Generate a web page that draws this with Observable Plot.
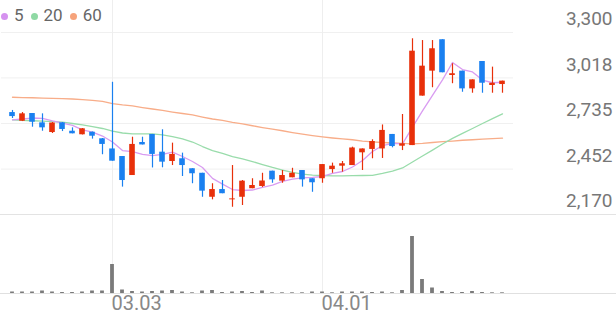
<!DOCTYPE html>
<html><head><meta charset="utf-8">
<script src="https://cdn.jsdelivr.net/npm/d3@7"></script>
<script src="https://cdn.jsdelivr.net/npm/@observablehq/plot@0.6"></script>
<style>
html,body{margin:0;padding:0;background:#fff;}
#chart{position:relative;width:616px;height:321px;overflow:hidden;font-family:Roboto,sans-serif;}
#chart svg{position:absolute;left:0;}
#legend{position:absolute;left:1px;top:0;height:30px;line-height:30px;font-size:17px;color:#666;white-space:nowrap;z-index:2;}
#legend .dot{display:inline-block;width:7px;height:7px;border-radius:50%;margin-right:6px;vertical-align:1px;}
#legend .lab{margin-right:7px;}
</style></head><body><div id="chart"><div id="legend"></div></div>
<script>
const dates = ["02.11","02.12","02.13","02.19","02.20","02.23","02.24","02.25","02.26","02.27","03.03","03.04","03.05","03.06","03.09","03.10","03.11","03.12","03.13","03.16","03.17","03.18","03.19","03.20","03.23","03.24","03.25","03.26","03.27","03.30","03.31","04.01","04.02","04.03","04.06","04.07","04.08","04.09","04.10","04.13","04.14","04.15","04.16","04.17","04.20","04.21","04.22","04.23","04.24","04.27"];
const open  = [2803,2749,2797,2739,2679,2739,2687,2665,2681,2640,2577,2530,2412,2617,2667,2557,2499,2516,2454,2426,2277,2325,2261,2277,2330,2344,2439,2377,2398,2443,2392,2392,2449,2470,2474,2553,2574,2577,2667,2594,2598,2905,3060,3255,3033,3060,2950,3120,2971,2977];
const high  = [2816,2803,2797,2795,2741,2741,2708,2704,2682,2642,2991,2530,2650,2650,2667,2696,2613,2551,2454,2426,2361,2381,2474,2381,2392,2426,2439,2443,2457,2443,2392,2480,2489,2499,2588,2577,2634,2726,2667,2791,3261,3250,3250,3255,3106,3060,3006,3120,3085,2998];
const low   = [2766,2747,2712,2687,2673,2685,2671,2664,2638,2541,2501,2340,2412,2602,2459,2460,2474,2406,2361,2277,2261,2299,2215,2226,2330,2338,2364,2364,2398,2340,2308,2364,2426,2433,2474,2443,2516,2518,2584,2567,2598,2905,2957,3050,2982,2929,2923,2923,2923,2923];
const close = [2778,2795,2743,2708,2738,2698,2671,2702,2656,2605,2501,2381,2605,2602,2543,2495,2543,2474,2423,2315,2325,2299,2267,2377,2350,2378,2385,2412,2426,2385,2367,2480,2470,2485,2583,2577,2623,2692,2592,2609,3184,3091,3199,3050,3044,2950,3006,2985,2985,2998];
const volume = [15000,15000,15000,25000,15000,10000,10000,15000,25000,25000,290000,35000,20000,15000,20000,25000,30000,15000,7000,25000,30000,10000,15000,20000,10000,25000,7000,7000,7000,7000,15000,15000,7000,15000,15000,15000,10000,15000,7000,30000,570000,140000,55000,20000,10000,10000,20000,10000,7000,7000];
const ma5  = [2757,2763,2769,2767,2751,2738,2723,2695,2682,2657,2620,2567,2561,2543,2536,2543,2557,2530,2499,2462,2394,2359,2325,2319,2322,2338,2353,2375,2390,2397,2400,2406,2425,2437,2465,2505,2561,2598,2611,2609,2713,2813,2910,3006,3114,3070,3055,3005,2988,2991];
const ma20 = [2758,2755,2752,2750,2747,2743,2735,2726,2716,2704,2688,2676,2671,2671,2670,2664,2654,2639,2620,2592,2567,2549,2530,2515,2499,2480,2462,2446,2431,2421,2415,2412,2410,2410,2411,2412,2413,2425,2440,2459,2496,2533,2570,2608,2643,2674,2704,2735,2765,2795];
const ma60 = [2898,2896,2895,2893,2891,2889,2887,2883,2878,2872,2859,2850,2844,2834,2825,2816,2806,2797,2788,2775,2763,2754,2742,2732,2721,2710,2700,2690,2679,2669,2660,2652,2645,2639,2634,2626,2621,2617,2614,2611,2609,2612,2617,2622,2626,2631,2634,2638,2641,2644];
const yTicks = [2170, 2452, 2735, 3018, 3300];
const xTicks = ["03.03", "04.01"];
const maNames = ["5", "20", "60"];
const maColors = ["#d592ef", "#8fd9a4", "#f6a37b"];
const lineColors = ["#d99cf1", "#99dcab", "#f8ad89"];
const upColor = "#e8300a", downColor = "#1a80f0";

const rows = dates.map((d, i) => ({date: d, open: open[i], high: high[i], low: low[i], close: close[i], volume: volume[i], ma5: ma5[i], ma20: ma20[i], ma60: ma60[i]}));
const candleColor = d => d.close >= d.open ? upColor : downColor;
const fmt = d3.format(",");
const chart = document.getElementById("chart");

const xOpt = {type: "band", domain: dates, padding: 0};

const price = Plot.plot({
  width: 616, height: 215,
  marginTop: 32, marginBottom: 1, marginLeft: 1, marginRight: 103,
  x: {...xOpt, axis: null},
  y: {domain: [2170, 3300], axis: null},
  color: {type: "identity"},
  style: {fontFamily: "Roboto, sans-serif", background: "transparent", overflow: "visible"},
  marks: [
    Plot.ruleY(yTicks, {stroke: "#f0f0f0", strokeWidth: 1}),
    Plot.ruleY([yTicks[0]], {stroke: "#e3e3e3", strokeWidth: 1, insetRight: -103, insetLeft: -1}),
    Plot.ruleX(xTicks, {stroke: "#eeeeee", strokeWidth: 1, insetTop: -32}),
    Plot.text(yTicks, {y: d => d, text: d => fmt(d), frameAnchor: "right", textAnchor: "end", dx: 99, dy: -13.5, fontSize: 19, fill: "#777"}),
    Plot.lineY(rows, {x: "date", y: "ma60", stroke: lineColors[2], strokeWidth: 1.3}),
    Plot.lineY(rows, {x: "date", y: "ma20", stroke: lineColors[1], strokeWidth: 1.3}),
    Plot.lineY(rows, {x: "date", y: "ma5", stroke: lineColors[0], strokeWidth: 1.3}),
    Plot.ruleX(rows, {x: "date", y1: "low", y2: "high", stroke: candleColor, strokeWidth: 1.2}),
    Plot.barY(rows, {x: "date", y1: "open", y2: "close", fill: candleColor, insetLeft: 2.2, insetRight: 2.2})
  ]
});
price.style.top = "0px";
chart.appendChild(price);

const vol = Plot.plot({
  width: 616, height: 106,
  marginTop: 7, marginBottom: 28, marginLeft: 1, marginRight: 103,
  x: {...xOpt, axis: null},
  y: {domain: [0, 710000], axis: null},
  style: {fontFamily: "Roboto, sans-serif", background: "transparent", overflow: "visible"},
  marks: [
    Plot.ruleX(xTicks, {stroke: "#eeeeee", strokeWidth: 1, insetTop: -7}),
    Plot.barY(rows, {x: "date", y: "volume", fill: "#7a7a7a", insetLeft: 3.1, insetRight: 3.1}),
    Plot.ruleY([0], {stroke: "#e0e0e0", strokeWidth: 1, insetRight: -103, insetLeft: -1}),
    Plot.text(xTicks, {x: d => d, text: d => d, frameAnchor: "bottom", textAnchor: "start", dx: -1, dy: 16.5, fontSize: 20, fill: "#888"})
  ]
});
vol.style.top = "215px";
chart.appendChild(vol);

const legend = document.getElementById("legend");
maNames.forEach((n, i) => {
  const dot = document.createElement("span");
  dot.className = "dot"; dot.style.background = maColors[i];
  const lab = document.createElement("span");
  lab.className = "lab"; lab.textContent = n;
  legend.appendChild(dot); legend.appendChild(lab);
});
</script>
</body></html>
